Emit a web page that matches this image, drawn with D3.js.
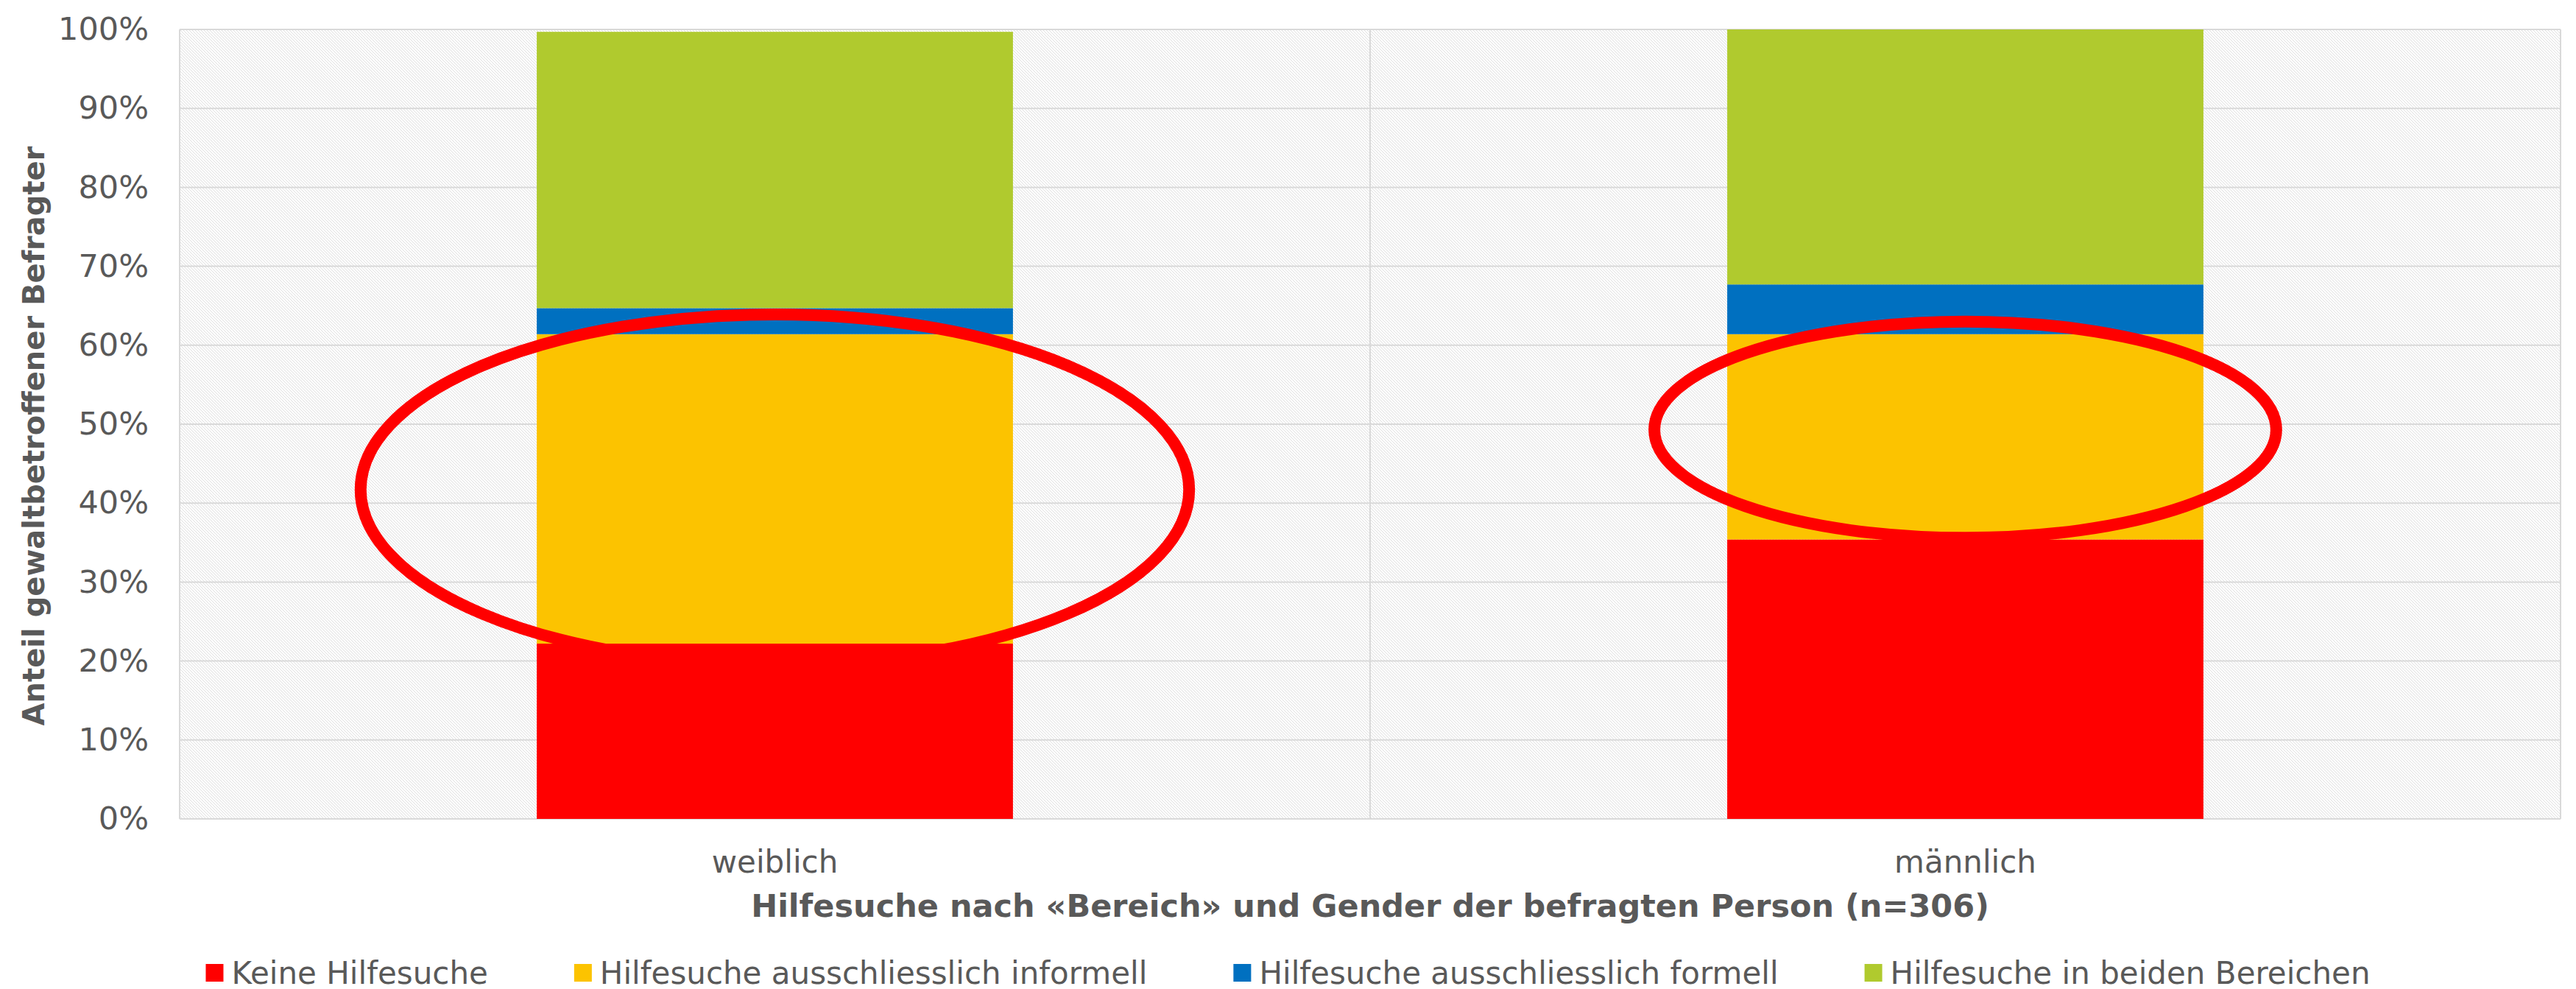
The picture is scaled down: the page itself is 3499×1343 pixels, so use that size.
<!doctype html>
<html>
<head>
  <meta charset="UTF-8">
  <title>Hilfesuche nach Bereich und Gender</title>
  <script src="https://cdn.jsdelivr.net/npm/d3@7"></script>
  <style>
    body { margin: 0; background: #fff; }
    text { font-family: "DejaVu Sans", Verdana, sans-serif; fill: #595959; }
  </style>
</head>
<body>
  <script>
    var categories = ["weiblich", "männlich"];
    var seriesNames = ["Keine Hilfesuche", "Hilfesuche ausschliesslich informell",
      "Hilfesuche ausschliesslich formell", "Hilfesuche in beiden Bereichen"];
    var keine = [22.2, 35.4];
    var informell = [39.2, 26.0];
    var formell = [3.3, 6.3];
    var beide = [35.0, 32.3];
    var colors = ["#ff0000", "#fcc300", "#0070c0", "#b0ca2e"];
    var yTicks = [0, 10, 20, 30, 40, 50, 60, 70, 80, 90, 100];
    // red circles drawn on top (centre and half height in %, half width relative to bar)
    var ringCenter = [41.7, 49.3];
    var ringHalfHeight = [22.2, 13.7];
    var ringHalfWidth = [0.87, 0.653];

    var w = 3499, h = 1343;
    var m = { top: 40, right: 21, bottom: 231, left: 244 };

    var rows = categories.map(function (c, i) {
      return { cat: c, s0: keine[i], s1: informell[i], s2: formell[i], s3: beide[i] };
    });

    var svg = d3.select("body").append("svg")
      .attr("width", w)
      .attr("height", h);

    var defs = svg.append("defs");
    var pat = defs.append("pattern")
      .attr("id", "hatch")
      .attr("patternUnits", "userSpaceOnUse")
      .attr("width", 4)
      .attr("height", 4);
    pat.append("rect").attr("width", 4).attr("height", 4).attr("fill", "#fff");
    [0, 1, 2, 3].forEach(function (k) {
      pat.append("rect").attr("x", k).attr("y", k).attr("width", 1).attr("height", 1).attr("fill", "#dedede");
    });

    var x = d3.scaleBand()
      .domain(categories)
      .range([m.left, w - m.right])
      .paddingInner(0.6)
      .paddingOuter(0.3);

    var y = d3.scaleLinear()
      .domain([0, 100])
      .range([h - m.bottom, m.top]);

    // plot background
    svg.append("rect")
      .attr("x", m.left)
      .attr("y", m.top)
      .attr("width", w - m.left - m.right)
      .attr("height", h - m.top - m.bottom)
      .attr("fill", "url(#hatch)");

    // horizontal gridlines
    svg.append("g")
      .selectAll("line")
      .data(yTicks)
      .enter().append("line")
      .attr("x1", m.left)
      .attr("x2", w - m.right)
      .attr("y1", function (d) { return y(d); })
      .attr("y2", function (d) { return y(d); })
      .attr("stroke", "#d9d9d9")
      .attr("stroke-width", 2);

    // vertical gridlines at category boundaries
    var bounds = [m.left, m.left + (w - m.left - m.right) / 2, w - m.right];
    svg.append("g")
      .selectAll("line")
      .data(bounds)
      .enter().append("line")
      .attr("x1", function (d) { return d; })
      .attr("x2", function (d) { return d; })
      .attr("y1", m.top)
      .attr("y2", h - m.bottom)
      .attr("stroke", "#d9d9d9")
      .attr("stroke-width", 2);

    // stacked bars
    var stack = d3.stack().keys(["s0", "s1", "s2", "s3"]);
    var layers = stack(rows);

    svg.append("g")
      .selectAll("g")
      .data(layers)
      .enter().append("g")
      .attr("fill", function (d, i) { return colors[i]; })
      .selectAll("rect")
      .data(function (d) { return d; })
      .enter().append("rect")
      .attr("x", function (d) { return x(d.data.cat); })
      .attr("y", function (d) { return y(d[1]); })
      .attr("width", x.bandwidth())
      .attr("height", function (d) { return y(d[0]) - y(d[1]); });

    // y axis labels
    var yAxis = d3.axisLeft(y)
      .tickValues(yTicks)
      .tickSize(0)
      .tickPadding(42)
      .tickFormat(function (d) { return d + "%"; });
    var ya = svg.append("g")
      .attr("transform", "translate(" + m.left + ",0)")
      .call(yAxis);
    ya.select(".domain").remove();
    ya.selectAll("text")
      .attr("font-size", 43)
      .attr("fill", "#595959")
      .attr("font-family", "DejaVu Sans, Verdana, sans-serif");

    // x axis labels
    var xAxis = d3.axisBottom(x).tickSize(0).tickPadding(0);
    var xa = svg.append("g")
      .attr("transform", "translate(0," + (h - m.bottom) + ")")
      .call(xAxis);
    xa.select(".domain").remove();
    xa.selectAll("text")
      .attr("dy", null)
      .attr("y", 73)
      .attr("font-size", 42)
      .attr("fill", "#595959")
      .attr("font-family", "DejaVu Sans, Verdana, sans-serif");

    // red ellipses
    svg.append("g")
      .selectAll("ellipse")
      .data(categories)
      .enter().append("ellipse")
      .attr("cx", function (d) { return x(d) + x.bandwidth() / 2; })
      .attr("cy", function (d, i) { return y(ringCenter[i]); })
      .attr("rx", function (d, i) { return x.bandwidth() * ringHalfWidth[i]; })
      .attr("ry", function (d, i) { return y(0) - y(ringHalfHeight[i]); })
      .attr("fill", "none")
      .attr("stroke", "#ff0000")
      .attr("stroke-width", 16);

    // axis titles
    svg.append("text")
      .attr("x", (m.left + w - m.right) / 2)
      .attr("y", 1245)
      .attr("text-anchor", "middle")
      .attr("font-size", 43)
      .attr("font-weight", "bold")
      .text("Hilfesuche nach «Bereich» und Gender der befragten Person (n=306)");

    svg.append("text")
      .attr("transform", "translate(60,592) rotate(-90)")
      .attr("text-anchor", "middle")
      .attr("font-size", 40)
      .attr("font-weight", "bold")
      .text("Anteil gewaltbetroffener Befragter");

    // legend
    var lg = svg.append("g");
    var items = lg.selectAll("g")
      .data(seriesNames)
      .enter().append("g");
    items.append("rect")
      .attr("width", 24)
      .attr("height", 24)
      .attr("y", 1309)
      .attr("fill", function (d, i) { return colors[i]; });
    items.append("text")
      .attr("y", 1336)
      .attr("font-size", 42)
      .text(function (d) { return d; });

    var pos = 0;
    var offsets = [];
    items.each(function () {
      var tw = d3.select(this).select("text").node().getComputedTextLength();
      offsets.push(pos);
      pos += 35 + tw + 117;
    });
    var total = pos - 117;
    var start = w / 2 - total / 2;
    items.each(function (d, i) {
      var g = d3.select(this);
      g.select("rect").attr("x", start + offsets[i]);
      g.select("text").attr("x", start + offsets[i] + 35);
    });
  </script>
</body>
</html>
